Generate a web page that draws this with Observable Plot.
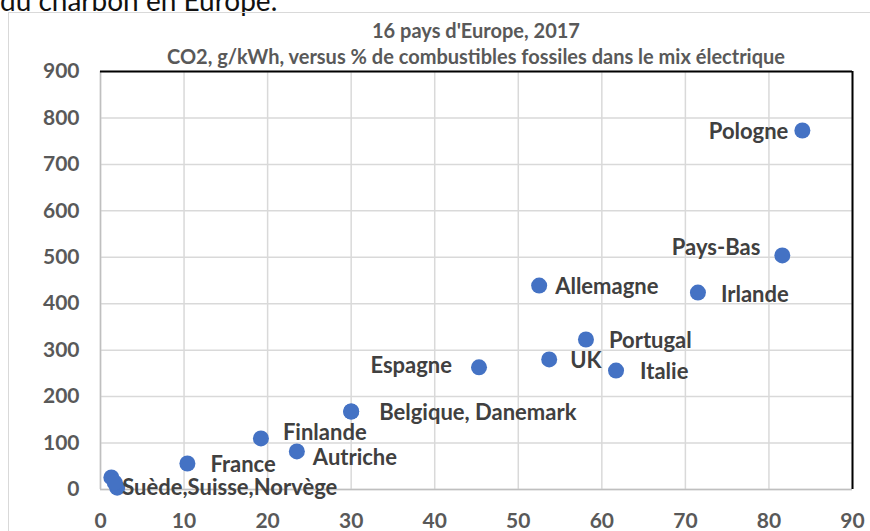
<!DOCTYPE html>
<html>
<head>
<meta charset="utf-8">
<script src="https://cdn.jsdelivr.net/npm/d3@7"></script>
<script src="https://cdn.jsdelivr.net/npm/@observablehq/plot@0.6"></script>
<style>
  html, body { margin:0; padding:0; background:#fff; }
  #wrap { position:relative; width:870px; height:531px; overflow:hidden; font-family: Lato, "Open Sans", sans-serif; }
  #frame { position:absolute; left:8px; top:12px; width:900px; height:600px; border-top:1.5px solid #d9d9d9; border-left:1.5px solid #d9d9d9; }
  #cut { position:absolute; left:0; top:-14px; font-size:28px; line-height:28px; color:#111; white-space:nowrap; }
  .t { position:absolute; left:100px; width:752px; text-align:center; font-weight:bold; color:#595959; font-size:20px; line-height:20px; white-space:nowrap; }
  #chart { position:absolute; left:0; top:0; }
</style>
</head>
<body>
<div id="wrap">
  <div id="cut">du charbon en Europe.</div>
  <div id="frame"></div>
  <div id="chart"></div>
  <div class="t" style="top:20px;">16 pays d'Europe, 2017</div>
  <div class="t" style="top:46px;">CO2, g/kWh, versus % de combustibles fossiles dans le mix électrique</div>
</div>
<script>
// Data
const countries = ["Pologne","Pays-Bas","Irlande","Allemagne","Portugal","UK","Italie","Espagne","Belgique","Danemark","Finlande","Autriche","France","Suède","Suisse","Norvège"];
const fossilShare = [84.0, 81.6, 71.5, 52.5, 58.1, 53.7, 61.7, 45.3, 30.0, 30.0, 19.2, 23.5, 10.4, 1.3, 2.0, 1.7];
const co2 = [773, 504, 424, 439, 323, 280, 256, 263, 168, 168, 110, 82, 56, 26, 4, 15];

const labelTexts = ["Pologne","Pays-Bas","Irlande","Allemagne","Portugal","UK","Italie","Espagne","Belgique, Danemark","Finlande","Autriche","France","Suède,Suisse,Norvège"];
const labelAnchors = ["Pologne","Pays-Bas","Irlande","Allemagne","Portugal","UK","Italie","Espagne","Belgique","Finlande","Autriche","France","Suisse"];

const xTicks = [0,10,20,30,40,50,60,70,80,90];
const yTicks = [0,100,200,300,400,500,600,700,800,900];

// Label placement (layout, kept apart from the data)
const placement = {
  "Pologne": {dx:-14, dy:1, anchor:"end"},
  "Pays-Bas": {dx:-22, dy:-7, anchor:"end"},
  "Irlande": {dx:23, dy:2, anchor:"start"},
  "Allemagne": {dx:16, dy:1, anchor:"start"},
  "Portugal": {dx:23, dy:1, anchor:"start"},
  "UK": {dx:21, dy:1, anchor:"start"},
  "Italie": {dx:24, dy:1, anchor:"start"},
  "Espagne": {dx:-27, dy:-1, anchor:"end"},
  "Belgique, Danemark": {dx:28, dy:1, anchor:"start"},
  "Finlande": {dx:22, dy:-5, anchor:"start"},
  "Autriche": {dx:16, dy:7, anchor:"start"},
  "France": {dx:23, dy:1, anchor:"start"},
  "Suède,Suisse,Norvège": {dx:5, dy:0, anchor:"start"}
};

const data = countries.map((c,i) => ({country:c, x:fossilShare[i], y:co2[i]}));
const labels = labelTexts.map((t,i) => {
  const d = data.find(e => e.country === labelAnchors[i]);
  return {text:t, x:d.x, y:d.y};
});

const labelMarks = labels.map(l => {
  const p = placement[l.text];
  return Plot.text([l], {x:"x", y:"y", text:"text", dx:p.dx, dy:p.dy, textAnchor:p.anchor,
    fill:"#404040", fontSize:22, fontWeight:"bold"});
});

const chart = Plot.plot({
  width:870, height:531,
  marginTop:71, marginLeft:100, marginRight:18, marginBottom:42,
  style:{fontFamily:"Lato, 'Open Sans', sans-serif", background:"transparent", overflow:"visible"},
  x:{domain:[0,90], label:null},
  y:{domain:[0,900], label:null},
  marks:[
    Plot.gridX(xTicks, {stroke:"#d9d9d9", strokeOpacity:1, strokeWidth:1.5}),
    Plot.gridY(yTicks, {stroke:"#d9d9d9", strokeOpacity:1, strokeWidth:1.5}),
    Plot.ruleX([0], {stroke:"#bfbfbf", strokeWidth:1.5}),
    Plot.ruleY([0], {stroke:"#bfbfbf", strokeWidth:1.5}),
    Plot.ruleY([900], {stroke:"#000", strokeWidth:2}),
    Plot.ruleX([90], {stroke:"#000", strokeWidth:2}),
    Plot.axisX(xTicks, {tickSize:0, tickPadding:24, fontSize:21, fontWeight:"bold", fill:"#595959", label:null}),
    Plot.axisY(yTicks, {tickSize:0, tickPadding:21, fontSize:21, fontWeight:"bold", fill:"#595959", label:null}),
    Plot.dot(data, {x:"x", y:"y", r:8, fill:"#4472C4", stroke:null}),
    ...labelMarks
  ]
});
document.getElementById("chart").appendChild(chart);
</script>
</body>
</html>
